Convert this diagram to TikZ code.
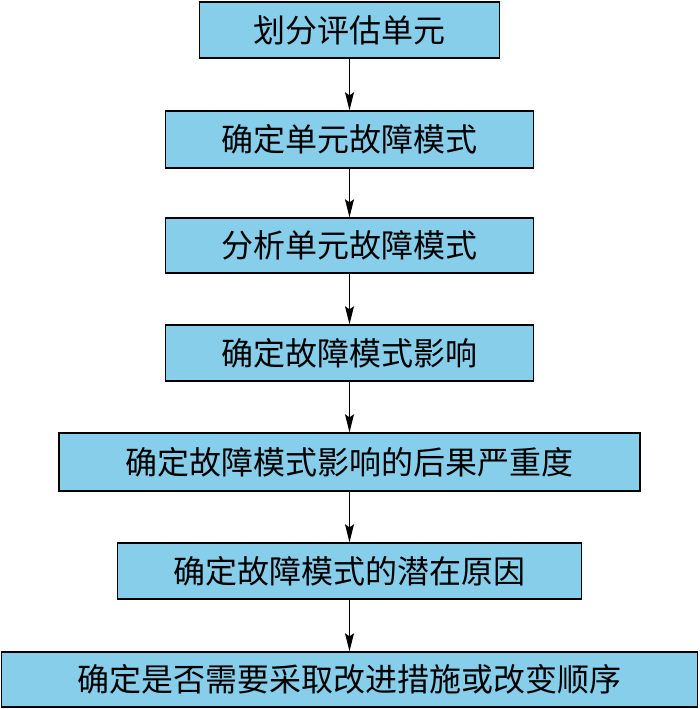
\documentclass[tikz,border=0pt]{standalone}
\usepackage{fontspec}
\newfontfamily\cjk{Noto Sans CJK SC}
\usetikzlibrary{arrows.meta}
\definecolor{boxblue}{RGB}{135,206,235}
\begin{document}
\begin{tikzpicture}[x=1pt,y=-1pt,
  stepbox/.style={draw=black,line width=1.4pt,fill=boxblue,inner sep=0pt,
    font=\cjk\fontsize{32}{36}\selectfont},
  flow/.style={line width=1.2pt,-{Stealth[length=18pt,width=9pt,inset=3pt]}}]
\useasboundingbox (0,0) rectangle (700,709);
\node[stepbox,minimum width=300pt,minimum height=56pt] (b1) at (349.5,30) {划分评估单元};
\node[stepbox,minimum width=368pt,minimum height=57pt] (b2) at (349.5,139.5) {确定单元故障模式};
\node[stepbox,minimum width=368pt,minimum height=55pt] (b3) at (349.5,245.5) {分析单元故障模式};
\node[stepbox,minimum width=368pt,minimum height=56pt] (b4) at (349.5,353) {确定故障模式影响};
\node[stepbox,minimum width=581pt,minimum height=58pt] (b5) at (349.5,462) {确定故障模式影响的后果严重度};
\node[stepbox,minimum width=464pt,minimum height=56pt] (b6) at (349.5,571) {确定故障模式的潜在原因};
\node[stepbox,minimum width=696pt,minimum height=55pt] (b7) at (349.5,679.5) {确定是否需要采取改进措施或改变顺序};
\draw[flow] (b1.south) -- (b2.north);
\draw[flow] (b2.south) -- (b3.north);
\draw[flow] (b3.south) -- (b4.north);
\draw[flow] (b4.south) -- (b5.north);
\draw[flow] (b5.south) -- (b6.north);
\draw[flow] (b6.south) -- (b7.north);
\end{tikzpicture}
\end{document}
